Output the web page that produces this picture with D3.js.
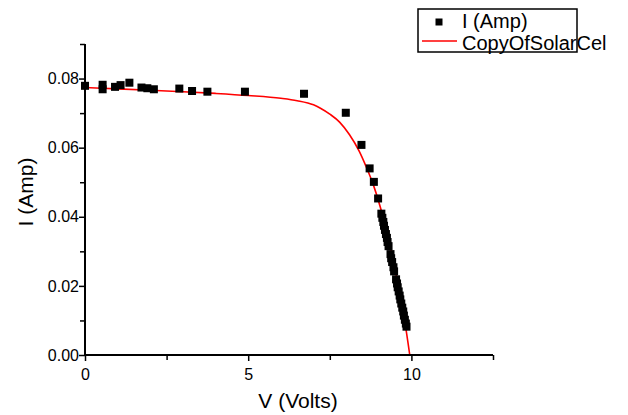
<!DOCTYPE html>
<html><head><meta charset="utf-8">
<script src="https://cdn.jsdelivr.net/npm/d3@7"></script>
<style>body{margin:0;background:#fff}svg{display:block}text{font-family:"Liberation Sans",Arial,sans-serif}</style>
</head><body><svg id="c" width="628" height="415"></svg>
<script>
// measured points
const voltsData = [0.0,0.54,0.54,0.92,1.09,1.36,1.73,1.91,2.11,2.89,3.28,3.75,4.90,6.71,7.99,8.47,8.72,8.85,8.98,
  9.08,9.11,9.14,9.16,9.19,9.22,9.25,9.27,9.30,9.36,9.38,9.41,9.45,9.47,9.53,9.56,9.58,9.61,9.64,9.66,9.69,9.72,9.75,9.77,9.80,9.83,9.85];
const ampsData = [0.0779,0.0782,0.0769,0.0776,0.0781,0.0788,0.0774,0.0772,0.0769,0.0771,0.0764,0.0762,0.0762,0.0756,0.0701,0.0608,0.0540,0.0501,0.0453,
  0.0409,0.0397,0.0385,0.0374,0.0362,0.0350,0.0339,0.0327,0.0315,0.0292,0.0280,0.0269,0.0254,0.0242,0.0219,0.0207,0.0196,0.0184,0.0172,0.0161,0.0149,0.0137,0.0126,0.0114,0.0102,0.0091,0.0082];
// fitted curve
const fitVolts = [0,1,2,3,4,5,6,6.5,7.0,7.2,7.5,7.8,8.1,8.4,8.6,8.85,9.1,9.35,9.6,9.8,9.95];
const fitAmps  = [0.0774,0.0770,0.0766,0.0762,0.0757,0.0751,0.0743,0.0736,0.0724,0.0715,0.0697,0.0674,0.0638,0.0590,0.0548,0.0488,0.0410,0.0315,0.0198,0.0095,0.0000];
const xTicks = [0,5,10];
const xMinor = [2.5,7.5,12.5];
const yTicks = [0.00,0.02,0.04,0.06,0.08];
const yMinor = [0.01,0.03,0.05,0.07,0.09];
const legendLabels = ["I (Amp)","CopyOfSolarCel"];

const svg = d3.select("#c");
const x = d3.scaleLinear().domain([0,12.5]).range([85,493]);
const y = d3.scaleLinear().domain([0,0.09]).range([355,44]);

// fit line
const line = d3.line().x(d=>x(d[0])).y(d=>y(d[1])).curve(d3.curveMonotoneX);
svg.append("path").datum(fitVolts.map((v,i)=>[v,fitAmps[i]]))
  .attr("d",line).attr("fill","none").attr("stroke","#ff0000").attr("stroke-width",1.6);

// points
svg.append("g").selectAll("rect").data(voltsData.map((v,i)=>[v,ampsData[i]])).join("rect")
  .attr("x",d=>x(d[0])-4).attr("y",d=>y(d[1])-4).attr("width",8).attr("height",8).attr("fill","#000");

// axes
const xa = svg.append("g").attr("transform","translate(0,355)");
xa.call(d3.axisBottom(x).tickValues(xTicks).tickSize(6).tickPadding(8).tickFormat(d3.format("d")));
xa.append("g").call(d3.axisBottom(x).tickValues(xMinor).tickSize(5).tickFormat(""));
const ya = svg.append("g").attr("transform","translate(85,0)");
ya.call(d3.axisLeft(y).tickValues(yTicks).tickSize(6).tickPadding(0).tickFormat(d3.format(".2f")));
ya.append("g").call(d3.axisLeft(y).tickValues(yMinor).tickSize(5).tickFormat(""));
svg.selectAll(".domain").attr("stroke","#000").attr("stroke-width",2);
svg.selectAll(".tick line").attr("stroke","#000").attr("stroke-width",1.5);
svg.selectAll(".tick text").attr("font-size",16).attr("fill","#000").style("font-family","'Liberation Sans',Arial,sans-serif");
xa.selectAll(".domain").attr("d","M85,0H493");
ya.selectAll(".domain").attr("d","M0,355V44");

// titles
svg.append("text").attr("x",298).attr("y",408).attr("text-anchor","middle").attr("font-size",21).text("V (Volts)");
svg.append("text").attr("transform","translate(33,192) rotate(-90)").attr("text-anchor","middle").attr("font-size",21).text("I (Amp)");

// legend
const lg = svg.append("g");
lg.append("rect").attr("x",418).attr("y",9).attr("width",159).attr("height",43).attr("fill","none").attr("stroke","#000").attr("stroke-width",1.5);
lg.append("rect").attr("x",435.5).attr("y",18.5).attr("width",7).attr("height",7).attr("fill","#000");
lg.append("line").attr("x1",422).attr("x2",457).attr("y1",41).attr("y2",41).attr("stroke","#ff0000").attr("stroke-width",1.6);
lg.selectAll("text.l").data(legendLabels).join("text").attr("class","l")
  .attr("x",462).attr("y",(d,i)=>28+i*22).attr("font-size",20).text(d=>d);
</script></body></html>
